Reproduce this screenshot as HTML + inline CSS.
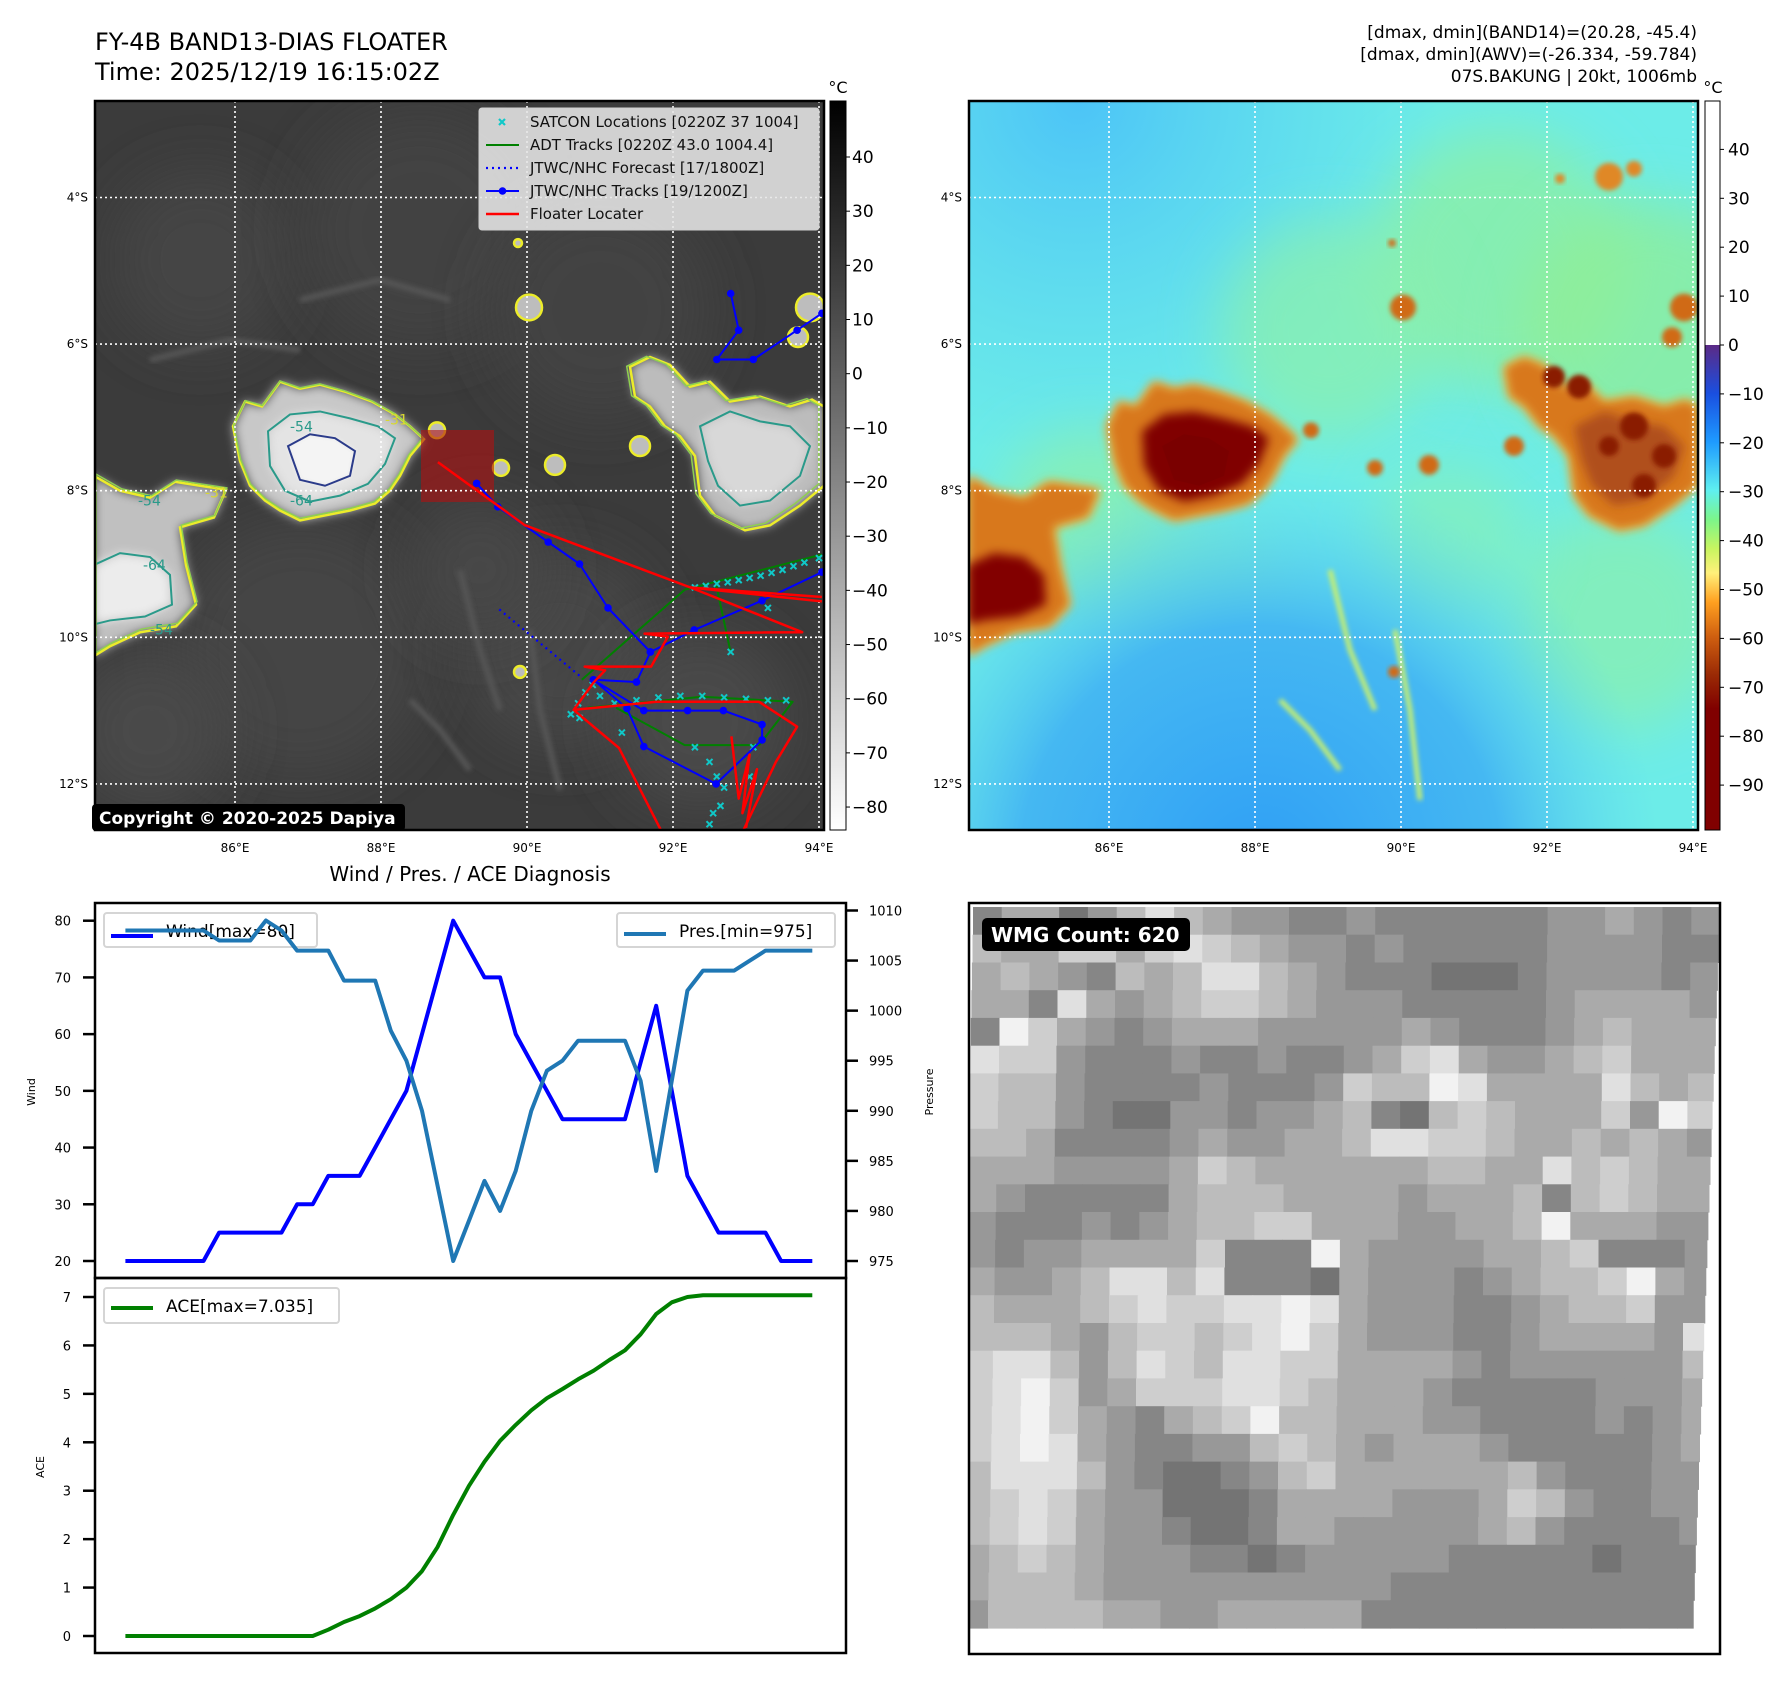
<!DOCTYPE html>
<html><head><meta charset="utf-8">
<style>
html,body{margin:0;padding:0;background:#fff;}
#root{position:relative;width:1788px;height:1690px;overflow:hidden;font-family:"Liberation Sans","DejaVu Sans",sans-serif;}
svg text{font-family:"DejaVu Sans","Liberation Sans",sans-serif;}
</style></head>
<body>
<div id="root">
<svg id="fig" width="1788" height="1690" viewBox="0 0 1788 1690" xmlns="http://www.w3.org/2000/svg">
<defs>
  <filter id="blur4" x="-20%" y="-20%" width="140%" height="140%"><feGaussianBlur stdDeviation="5"/></filter>
  <filter id="blur2" x="-20%" y="-20%" width="140%" height="140%"><feGaussianBlur stdDeviation="2.5"/></filter>
  <filter id="blur10" x="-100%" y="-100%" width="300%" height="300%"><feGaussianBlur stdDeviation="28"/></filter>
  <linearGradient id="cbGray" x1="0" y1="0" x2="0" y2="1">
    <stop offset="0" stop-color="#000"/><stop offset="1" stop-color="#fff"/>
  </linearGradient>
  <linearGradient id="cbJet" x1="0" y1="0" x2="0" y2="1">
    <stop offset="0" stop-color="#5b2a86"/>
    <stop offset="0.1" stop-color="#1a4fe0"/>
    <stop offset="0.2" stop-color="#1e9bff"/>
    <stop offset="0.3" stop-color="#5ff0f0"/>
    <stop offset="0.36" stop-color="#7cf58a"/>
    <stop offset="0.42" stop-color="#c8f560"/>
    <stop offset="0.47" stop-color="#fff07a"/>
    <stop offset="0.53" stop-color="#ffa020"/>
    <stop offset="0.6" stop-color="#d06010"/>
    <stop offset="0.68" stop-color="#9a2a05"/>
    <stop offset="0.75" stop-color="#800000"/>
    <stop offset="1" stop-color="#800000"/>
  </linearGradient>
  <radialGradient id="bgBlue" cx="0.4" cy="1.05" r="0.55">
    <stop offset="0" stop-color="#2f9ff5"/><stop offset="0.6" stop-color="#45b8f2"/><stop offset="1" stop-color="#5fd8ef" stop-opacity="0"/>
  </radialGradient>
  <radialGradient id="bgBlueTop" cx="0.15" cy="0" r="0.5">
    <stop offset="0" stop-color="#4cc4f7"/><stop offset="1" stop-color="#55d0f3" stop-opacity="0"/>
  </radialGradient>
  <clipPath id="clip1"><rect x="95" y="101" width="729" height="729"/></clipPath>
  <clipPath id="clip2"><rect x="969" y="101" width="729" height="729"/></clipPath>
  <clipPath id="clipW"><rect x="969" y="903" width="751" height="751"/></clipPath>
</defs>
<g id="layer"></g>
</svg>
</div>
<script>
// ---------------- chart data ----------------
const windVals = [20,20,20,20,20,20,25,25,25,25,25,30,30,35,35,35,40,45,50,60,70,80,75,70,70,60,55,50,45,45,45,45,45,55,65,50,35,30,25,25,25,25,20,20,20];
const presVals = [1008,1008,1008,1008,1008,1008,1007,1007,1007,1009,1008,1006,1006,1006,1003,1003,1003,998,995,990,982.5,975,979,983,980,984,990,994,995,997,997,997,997,993,984,993,1002,1004,1004,1004,1005,1006,1006,1006,1006];
const aceVals = [0,0,0,0,0,0,0,0,0,0,0,0,0,0.13,0.29,0.41,0.57,0.76,1.0,1.34,1.84,2.5,3.1,3.6,4.03,4.36,4.66,4.91,5.1,5.3,5.48,5.7,5.9,6.23,6.65,6.89,7.0,7.035,7.035,7.035,7.035,7.035,7.035,7.035,7.035];
const windTicks = [20,30,40,50,60,70,80];
const presTicks = [975,980,985,990,995,1000,1005,1010];
const aceTicks = [0,1,2,3,4,5,6,7];
const latTicks = [4,6,8,10,12];
const lonTicks = [86,88,90,92,94];
const cb1Ticks = [40,30,20,10,0,-10,-20,-30,-40,-50,-60,-70,-80];
const cb2Ticks = [40,30,20,10,0,-10,-20,-30,-40,-50,-60,-70,-80,-90];
// track data (lon E, lat S)
const jtwcMain = [[89.31,7.90],[89.60,8.22],[90.29,8.70],[90.72,9.00],[91.11,9.60],[91.69,10.20],[92.29,9.90],[93.22,9.50],[94.04,9.11]];
const jtwcLoop = [[91.69,10.20],[91.50,10.61],[90.91,10.58],[91.37,10.97],[91.60,11.49],[92.59,12.0],[93.22,11.40],[93.22,11.19],[92.69,11.0],[92.2,11.0],[91.6,11.0],[90.91,10.58]];
const jtwcUpper = [[92.79,5.31],[92.90,5.81],[92.60,6.21],[93.10,6.21],[93.70,5.81],[94.04,5.58]];
const jtwcFcst = [[89.62,9.62],[90.75,10.55]];
const floaterA = [[88.78,7.61],[89.97,8.47],[92.24,9.32],[94.04,9.51]];
const floaterB = [[94.04,9.45],[92.24,9.32],[93.77,9.93],[91.61,9.95],[91.93,9.99],[91.70,10.4],[90.79,10.40],[91.07,10.45],[90.91,10.62],[90.64,10.99],[91.77,10.88],[93.18,10.88],[93.70,11.22],[93.41,11.70],[92.95,12.66]];
const floaterC = [[90.64,10.99],[91.26,11.51],[91.85,12.66]];
const floaterD = [[92.80,11.35],[92.90,12.2],[93.05,11.6],[92.95,12.4],[93.15,11.8],[93.0,12.6]];
const adtA = [[90.75,10.58],[92.16,9.35],[94.04,8.87]];
const adtB = [[92.59,9.28],[92.79,10.21]];
const adtC = [[90.83,10.96],[92.40,10.81],[93.64,10.88],[93.18,11.47],[92.16,11.47],[91.22,10.96]];
const satconPts = [[92.3,9.32],[92.6,9.27],[92.9,9.22],[93.2,9.16],[93.5,9.08],[93.8,8.98],[94.0,8.92],[92.45,9.3],[92.75,9.25],[93.05,9.19],[93.35,9.12],[93.65,9.03],[92.79,10.2],[93.3,9.6],[90.7,10.9],[90.8,10.75],[90.9,10.65],[91.0,10.8],[90.6,11.05],[90.72,11.1],[91.2,10.9],[91.5,10.86],[91.8,10.82],[92.1,10.8],[92.4,10.8],[92.7,10.82],[93.0,10.84],[93.3,10.86],[93.55,10.86],[91.3,11.3],[92.3,11.5],[92.5,11.7],[92.6,11.9],[92.7,12.05],[92.55,12.4],[92.5,12.55],[92.65,12.3],[93.1,11.5],[93.05,11.9]];

// ---------------- helpers ----------------
const NS = 'http://www.w3.org/2000/svg';
const layer = document.getElementById('layer');
function mk(tag, attrs, parent){ const e=document.createElementNS(NS,tag); for(const k in attrs) e.setAttribute(k,attrs[k]); (parent||layer).appendChild(e); return e; }
function txt(str, attrs, parent){ const e=mk('text',attrs,parent); e.textContent=str; return e; }
function mapX(lon, off){ return 235 + (lon-86)*73 + (off||0); }
function mapY(latS){ return 197.5 + (latS-4)*73.3; }
function ptsStr(arr, off){ return arr.map(p=>mapX(p[0],off).toFixed(1)+','+mapY(p[1]).toFixed(1)).join(' '); }
const CLOUD_TR = 'matrix(1,0,0,0.9905,0,10.3)';

// ---------------- titles ----------------
let t;
t = txt('FY-4B BAND13-DIAS FLOATER',{x:95,y:50,'font-size':24,fill:'#000'});
 
t = txt('Time: 2025/12/19 16:15:02Z',{x:95,y:80,'font-size':24,fill:'#000'});
 
const infoLines = ['[dmax, dmin](BAND14)=(20.28, -45.4)','[dmax, dmin](AWV)=(-26.334, -59.784)','07S.BAKUNG | 20kt, 1006mb'];
infoLines.forEach((s,i)=>{ const e=txt(s,{x:1697,y:38+i*22,'font-size':17,'text-anchor':'end',fill:'#000'});
  
   });

// ---------------- cloud shapes (map-local, map1 coords) ----------------
const blobMain = 'M233,420 L245,395 L262,400 L280,375 L300,382 L320,378 L345,385 L372,395 L395,408 L410,420 L424,433 L410,450 L400,470 L390,485 L375,498 L350,505 L325,510 L300,515 L280,505 L265,495 L250,480 L240,455 Z';
const blobMainCore = 'M268,425 L290,408 L320,405 L350,412 L378,420 L395,432 L385,458 L368,478 L340,490 L310,496 L285,485 L270,460 Z';
const blobMainDeep = 'M288,440 L310,428 L335,432 L355,445 L350,470 L325,480 L300,474 Z';
const blobLeft = 'M94,470 L120,485 L150,492 L175,476 L200,480 L226,484 L214,512 L180,522 L186,560 L196,600 L176,622 L140,628 L110,642 L94,652 Z';
const blobLeftCore = 'M94,560 L120,548 L150,552 L170,570 L172,600 L145,612 L110,616 L94,620 Z';
const blobRight = 'M630,360 L650,350 L670,358 L690,380 L710,375 L730,395 L760,390 L790,400 L812,393 L824,400 L824,480 L800,500 L770,520 L745,525 L715,510 L700,490 L695,450 L680,430 L665,420 L650,400 L635,390 Z';
const blobRightCore = 'M700,420 L730,405 L760,415 L790,420 L810,440 L800,470 L770,495 L740,500 L718,480 L708,455 Z';
const smallBlobs = [[529,300,13],[501,462,8],[555,459,10],[437,424,8],[810,300,14],[798,330,10],[640,440,10],[518,235,4],[520,668,6]];

function drawClouds(g, off, mode){
  const gg = mk('g',{transform:'translate('+off+',0) '+CLOUD_TR},g);
  if(mode==='gray'){
    [[blobMain,'#c8c8c8'],[blobLeft,'#c0c0c0'],[blobRight,'#bcbcbc']].forEach(a=>mk('path',{d:a[0],fill:a[1],filter:'url(#blur4)'},gg));
    [[blobMainCore,'#e4e4e4'],[blobLeftCore,'#ececec'],[blobRightCore,'#d8d8d8']].forEach(a=>mk('path',{d:a[0],fill:a[1],filter:'url(#blur4)'},gg));
    mk('path',{d:blobMainDeep,fill:'#f4f4f4',filter:'url(#blur2)'},gg);
    smallBlobs.forEach(b=>mk('circle',{cx:b[0],cy:b[1],r:b[2],fill:'#bdbdbd'},gg));
    [blobMain,blobLeft,blobRight].forEach(d=>mk('path',{d:d,fill:'none',stroke:'#ecec2a','stroke-width':2.5},gg));
    smallBlobs.forEach(b=>mk('circle',{cx:b[0],cy:b[1],r:b[2],fill:'none',stroke:'#ecec2a','stroke-width':2.5},gg));
    [blobMainCore,blobLeftCore,blobRightCore].forEach(d=>mk('path',{d:d,fill:'none',stroke:'#2a9a8a','stroke-width':2},gg));
    mk('path',{d:blobMainDeep,fill:'none',stroke:'#2b3b8a','stroke-width':2},gg);
    [blobMain,blobLeft,blobRight].forEach(d=>mk('path',{d:d,fill:'none',stroke:'#8fd14f','stroke-width':1.5,transform:'translate(3,3) scale(0.99)'},gg));
  } else {
    [blobMain,blobLeft,blobRight].forEach(d=>mk('path',{d:d,fill:'#f0e060',filter:'url(#blur4)'},gg));
    [blobMain,blobLeft,blobRight].forEach(d=>mk('path',{d:d,fill:'#d8781a',filter:'url(#blur4)'},gg));
    [[blobMainCore,'#800000'],[blobLeftCore,'#820202'],[blobRightCore,'#b0501a']].forEach(a=>mk('path',{d:a[0],fill:a[1],filter:'url(#blur4)'},gg));
    mk('path',{d:blobMainDeep,fill:'#7a0000'},gg);
    [[760,420,14],[790,450,12],[735,440,10],[705,380,12],[680,370,11],[770,480,12]].forEach(b=>mk('circle',{cx:b[0],cy:b[1],r:b[2],fill:'#8a1a05',filter:'url(#blur2)'},gg));
    smallBlobs.forEach(b=>mk('circle',{cx:b[0],cy:b[1],r:b[2],fill:'#d06a15',filter:'url(#blur2)'},gg));
    [[735,168,14],[760,160,8],[686,170,5]].forEach(b=>mk('circle',{cx:b[0],cy:b[1],r:b[2],fill:'#e08828',filter:'url(#blur2)'},gg));
  }
}

// ---------------- MAP 1 ----------------
const m1 = mk('g',{'clip-path':'url(#clip1)'});


mk('rect',{x:95,y:101,width:729,height:729,fill:'#3b3b3b'},m1);
[[200,260,90,'#444'],[420,230,120,'#434343'],[600,310,110,'#424242'],[300,650,130,'#444'],[560,650,100,'#474747'],[700,720,90,'#494949'],[150,730,80,'#484848'],[480,570,70,'#474747']].forEach(c=>mk('circle',{cx:c[0],cy:c[1],r:c[2],fill:c[3],filter:'url(#blur10)'},m1));
[[[460,570],[480,650],[500,710]],[[530,630],[540,710],[560,790]],[[410,700],[440,730],[470,770]],[[300,300],[380,280],[450,300]],[[150,360],[230,340],[300,350]]].forEach(l=>mk('polyline',{points:l.map(p=>p.join(',')).join(' '),fill:'none',stroke:'#555','stroke-width':6,filter:'url(#blur2)'},m1));
drawClouds(m1,0,'gray');
const fsq = mk('rect',{x:421,y:430,width:73,height:72,fill:'#b01010','fill-opacity':0.6},m1);


latTicks.forEach(v=>mk('line',{x1:95,x2:824,y1:mapY(v),y2:mapY(v),stroke:'#fff','stroke-width':1.6,'stroke-dasharray':'2,3'},m1));
lonTicks.forEach(v=>mk('line',{y1:101,y2:830,x1:mapX(v),x2:mapX(v),stroke:'#fff','stroke-width':1.6,'stroke-dasharray':'2,3'},m1));
function poly(arr, color, w, parent, off, dash, name){
  const e=mk('polyline',{points:ptsStr(arr,off),fill:'none',stroke:color,'stroke-width':w,'stroke-linejoin':'round'},parent);
  if(dash) e.setAttribute('stroke-dasharray',dash);
  
  
  return e;
}
poly(adtA,'#008000',2,m1,0,null,'adt-track');
poly(adtB,'#008000',2,m1,0,null,'adt-track');
poly(adtC,'#008000',2,m1,0,null,'adt-track');
satconPts.forEach(p=>{ const x=mapX(p[0]), y=mapY(p[1]);
  const g=mk('g',{},m1);
  
  
  mk('path',{d:`M${x-3},${y-3}L${x+3},${y+3}M${x+3},${y-3}L${x-3},${y+3}`,stroke:'#10c8c8','stroke-width':2},g); });
poly(jtwcFcst,'#0000ff',2.2,m1,0,'2,4','jtwc-forecast');
[jtwcMain,jtwcLoop,jtwcUpper].forEach(arr=>{ poly(arr,'#0000ff',2,m1,0,null,'jtwc-track');
  arr.forEach(p=>{ const c=mk('circle',{cx:mapX(p[0]),cy:mapY(p[1]),r:3.8,fill:'#0000ff'},m1);
    
     }); });
[floaterA,floaterB,floaterC,floaterD].forEach(a=>poly(a,'#ff0000',2.5,m1,0,null,'floater-locater-line'));
const lblG = mk('g',{transform:CLOUD_TR},m1);
[['-54',290,425],['-64',290,500],['-31',385,418],['-54',138,500],['-64',143,565],['-31',205,492],['-54',150,630]].forEach(l=>txt(l[0],{x:l[1],y:l[2],'font-size':14,fill:l[0]==='-31'?'#d8d830':'#2a9a8a'},lblG));
const cp = mk('g',{});  
mk('rect',{x:92,y:804,width:313,height:27,rx:4,fill:'#000'},cp);
txt('Copyright © 2020-2025 Dapiya',{x:99,y:824,'font-size':17,'font-weight':'bold',fill:'#fff'},cp);
mk('rect',{x:95,y:101,width:729,height:729,fill:'none',stroke:'#000','stroke-width':2.5});
// legend
const lg = mk('g',{});  
mk('rect',{x:479,y:108,width:340,height:122,rx:3,fill:'#e6e6e6','fill-opacity':0.88,stroke:'#cfcfcf'},lg);
const legItems = ['SATCON Locations [0220Z 37 1004]','ADT Tracks [0220Z 43.0 1004.4]','JTWC/NHC Forecast [17/1800Z]','JTWC/NHC Tracks [19/1200Z]','Floater Locater'];
legItems.forEach((s,i)=>{ const y=122+i*23;
  const g=mk('g',{},lg);
  
  
  if(i===0){ mk('path',{d:`M499,${y-3}L505,${y+3}M505,${y-3}L499,${y+3}`,stroke:'#10c8c8','stroke-width':2.2},g); }
  if(i===1) mk('line',{x1:486,x2:519,y1:y,y2:y,stroke:'#008000','stroke-width':2},g);
  if(i===2) mk('line',{x1:486,x2:519,y1:y,y2:y,stroke:'#0000ff','stroke-width':2.2,'stroke-dasharray':'2,4'},g);
  if(i===3){ mk('line',{x1:486,x2:519,y1:y,y2:y,stroke:'#0000ff','stroke-width':2},g); mk('circle',{cx:502.5,cy:y,r:3.8,fill:'#0000ff'},g); }
  if(i===4) mk('line',{x1:486,x2:519,y1:y,y2:y,stroke:'#ff0000','stroke-width':2.5},g);
  txt(s,{x:530,y:y+5,'font-size':15,fill:'#111'},g); });
function mapLabels(off, leftX){
  latTicks.forEach(v=>{ const e=txt(v+'°S',{x:leftX,y:mapY(v)+4,'font-size':12,'text-anchor':'end',fill:'#000'});
      });
  lonTicks.forEach(v=>{ const e=txt(v+'°E',{x:mapX(v,off),y:852,'font-size':12,'text-anchor':'middle',fill:'#000'});
      });
}
mapLabels(0,88);
function cb1Y(v){ return 157 + (40-v)*5.417; }
const cb1 = mk('g',{});  
mk('rect',{x:830,y:101,width:16,height:729,fill:'url(#cbGray)',stroke:'#000','stroke-width':1},cb1);
cb1Ticks.forEach(v=>{ const y=cb1Y(v); mk('line',{x1:846,x2:850,y1:y,y2:y,stroke:'#000'},cb1);
  const s=(v<0?'\u2212'+(-v):''+v); txt(s,{x:852,y:y+6,'font-size':17,fill:'#000'},cb1); });
txt('°C',{x:838,y:93,'font-size':16,'text-anchor':'middle',fill:'#000'},cb1);

// ---------------- MAP 2 ----------------
const OFF2 = 874;
const m2 = mk('g',{'clip-path':'url(#clip2)'});


mk('rect',{x:969,y:101,width:729,height:729,fill:'#6cece8'},m2);
mk('rect',{x:969,y:101,width:729,height:729,fill:'url(#bgBlueTop)'},m2);
[[1500,260,130,'#90ef9c'],[1650,330,130,'#92ee92'],[1330,330,110,'#8cefaa'],[1090,520,90,'#8ff0a6'],[1620,620,110,'#8aefac'],[1450,540,80,'#84f0b8'],[1200,600,80,'#80efc0']].forEach(c=>mk('circle',{cx:c[0],cy:c[1],r:c[2],fill:c[3],'fill-opacity':0.7,filter:'url(#blur10)'},m2));
mk('rect',{x:969,y:101,width:729,height:729,fill:'url(#bgBlue)'},m2);
[[[1330,570],[1350,650],[1375,710]],[[1395,630],[1410,710],[1420,800]],[[1280,700],[1310,730],[1340,770]]].forEach(l=>mk('polyline',{points:l.map(p=>p.join(',')).join(' '),fill:'none',stroke:'#c8f070','stroke-width':5,filter:'url(#blur2)'},m2));
drawClouds(m2,OFF2,'color');
latTicks.forEach(v=>mk('line',{x1:969,x2:1698,y1:mapY(v),y2:mapY(v),stroke:'#fff','stroke-width':1.6,'stroke-dasharray':'2,3'},m2));
lonTicks.forEach(v=>mk('line',{y1:101,y2:830,x1:mapX(v,OFF2),x2:mapX(v,OFF2),stroke:'#fff','stroke-width':1.6,'stroke-dasharray':'2,3'},m2));
mk('rect',{x:969,y:101,width:729,height:729,fill:'none',stroke:'#000','stroke-width':2.5});
mapLabels(OFF2,962);
function cb2Y(v){ return 345 - v*4.89; }
const cb2 = mk('g',{});  
mk('rect',{x:1705,y:101,width:15,height:cb2Y(0)-101,fill:'#fff'},cb2);
mk('rect',{x:1705,y:cb2Y(0),width:15,height:830-cb2Y(0),fill:'url(#cbJet)'},cb2);
mk('rect',{x:1705,y:101,width:15,height:729,fill:'none',stroke:'#000','stroke-width':1},cb2);
cb2Ticks.forEach(v=>{ const y=cb2Y(v); mk('line',{x1:1720,x2:1724,y1:y,y2:y,stroke:'#000'},cb2);
  const s=(v<0?'\u2212'+(-v):''+v); txt(s,{x:1728,y:y+6,'font-size':17,fill:'#000'},cb2); });
txt('°C',{x:1713,y:93,'font-size':16,'text-anchor':'middle',fill:'#000'},cb2);

// ---------------- Wind / Pres / ACE chart ----------------
const CX0=95, CX1=846, TOP0=903, MID=1278, BOT=1653;
function xIdx(i){ return 125.4 + i*(812.3-125.4)/(windVals.length-1); }
function yWind(v){ return 920.7 + (80-v)*(1261-920.7)/60; }
function yPres(v){ return 910.5 + (1010-v)*(1261-910.5)/35; }
function yAce(v){ return 1636 + (0-v)*(1636-1297)/7; }
t = txt('Wind / Pres. / ACE Diagnosis',{x:470,y:881,'font-size':20,'text-anchor':'middle',fill:'#000'});
 
const topAx = mk('g',{});  
mk('rect',{x:CX0,y:TOP0,width:CX1-CX0,height:MID-TOP0,fill:'#fff'},topAx);
windTicks.forEach(v=>{ const y=yWind(v); mk('line',{x1:CX0-12,x2:CX0,y1:y,y2:y,stroke:'#000','stroke-width':2.5},topAx);
  const e=txt(''+v,{x:CX0-24,y:y+5,'font-size':13,'text-anchor':'end',fill:'#000'},topAx);
    });
presTicks.forEach(v=>{ const y=yPres(v); mk('line',{x1:CX1,x2:CX1+12,y1:y,y2:y,stroke:'#000','stroke-width':2.5},topAx);
  const e=txt(''+v,{x:CX1+23,y:y+5,'font-size':13,fill:'#000'},topAx);
    });
t=txt('Wind',{x:0,y:0,'font-size':11,'text-anchor':'middle',fill:'#000',transform:'translate(35,1092) rotate(-90)'});
 
t=txt('Pressure',{x:0,y:0,'font-size':11,'text-anchor':'middle',fill:'#000',transform:'translate(933,1092) rotate(-90)'});
 
let lgw = mk('g',{});  
mk('rect',{x:104,y:913,width:213,height:34,rx:3,fill:'#fff','fill-opacity':0.8,stroke:'#d5d5d5','stroke-width':2},lgw);
mk('line',{x1:111,x2:153,y1:936,y2:936,stroke:'#0000ff','stroke-width':4},lgw);
txt('Wind[max=80]',{x:166,y:937,'font-size':17,fill:'#000'},lgw);
const windLine = mk('polyline',{points:windVals.map((v,i)=>xIdx(i).toFixed(1)+','+yWind(v).toFixed(1)).join(' '),fill:'none',stroke:'#0000ff','stroke-width':4,'stroke-linejoin':'round'});
 
const presLine = mk('polyline',{points:presVals.map((v,i)=>xIdx(i).toFixed(1)+','+yPres(v).toFixed(1)).join(' '),fill:'none',stroke:'#1f77b4','stroke-width':4,'stroke-linejoin':'round'});
 
let lgp = mk('g',{});  
mk('rect',{x:617,y:913,width:218,height:34,rx:3,fill:'#fff','fill-opacity':0.8,stroke:'#d5d5d5','stroke-width':2},lgp);
mk('line',{x1:624,x2:666,y1:934,y2:934,stroke:'#1f77b4','stroke-width':4},lgp);
txt('Pres.[min=975]',{x:679,y:937,'font-size':17,fill:'#000'},lgp);
const botAx = mk('g',{});  
aceTicks.forEach(v=>{ const y=yAce(v); mk('line',{x1:CX0-12,x2:CX0,y1:y,y2:y,stroke:'#000','stroke-width':2.5},botAx);
  const e=txt(''+v,{x:CX0-24,y:y+5,'font-size':13,'text-anchor':'end',fill:'#000'},botAx);
    });
t=txt('ACE',{x:0,y:0,'font-size':11,'text-anchor':'middle',fill:'#000',transform:'translate(44,1467) rotate(-90)'});
 
const aceLine = mk('polyline',{points:aceVals.map((v,i)=>xIdx(i).toFixed(1)+','+yAce(v).toFixed(1)).join(' '),fill:'none',stroke:'#008000','stroke-width':4,'stroke-linejoin':'round'});
 
let lga = mk('g',{});  
mk('rect',{x:104,y:1288,width:235,height:35,rx:3,fill:'#fff','fill-opacity':0.8,stroke:'#d5d5d5','stroke-width':2},lga);
mk('line',{x1:111,x2:153,y1:1308,y2:1308,stroke:'#008000','stroke-width':4},lga);
txt('ACE[max=7.035]',{x:166,y:1312,'font-size':17,fill:'#000'},lga);
mk('rect',{x:CX0,y:TOP0,width:CX1-CX0,height:MID-TOP0,fill:'none',stroke:'#000','stroke-width':2.5});
mk('rect',{x:CX0,y:MID,width:CX1-CX0,height:BOT-MID,fill:'none',stroke:'#000','stroke-width':2.5});

// ---------------- WMG panel ----------------
const wmgRows = [
[3,5,5,2,4,6,8,6,5,4,4,3,3,4,3,3,3,3,3,3,4,4,5,4,3,4],
[6,5,5,7,7,5,7,8,7,6,5,4,4,3,4,3,3,3,3,3,4,4,4,4,3,3],
[5,6,5,4,3,6,5,6,8,8,6,5,4,3,3,3,2,2,2,3,4,4,4,4,3,4],
[5,5,3,8,5,4,5,6,7,7,6,5,4,4,4,3,3,3,3,3,4,5,5,5,5,4],
[3,9,7,5,4,3,4,5,5,5,4,4,4,4,4,5,4,3,3,3,4,5,6,5,5,5],
[8,7,7,4,3,3,3,4,3,3,4,3,3,4,5,7,8,5,4,4,5,6,7,5,5,5],
[7,6,6,4,3,3,3,3,4,3,3,3,4,7,6,6,9,8,5,5,5,5,8,6,5,6],
[7,6,6,4,3,2,2,4,4,3,4,4,5,6,3,2,6,7,6,5,5,5,7,4,9,7],
[6,6,5,3,3,3,3,4,5,4,4,5,5,6,8,8,7,7,6,5,5,6,5,6,5,4],
[5,5,5,4,4,4,4,5,7,6,5,5,5,5,5,5,6,6,5,5,8,6,7,6,5,5],
[5,4,3,3,3,3,3,5,6,6,6,5,5,5,5,4,5,5,5,6,3,6,7,6,5,5],
[4,3,3,3,4,3,4,5,6,6,7,7,5,5,5,4,4,5,5,6,9,5,5,5,4,4],
[4,3,4,4,5,5,5,5,7,3,3,3,9,5,4,4,4,4,5,5,6,7,3,3,3,4],
[5,4,4,5,6,8,8,6,8,3,3,3,2,5,4,4,4,3,4,5,6,6,7,9,5,4],
[6,5,5,5,6,7,8,7,7,8,8,9,8,5,4,4,4,3,3,4,5,6,6,7,4,4],
[6,6,6,5,4,6,7,7,6,7,8,9,7,5,4,4,4,3,3,4,5,5,5,5,4,8],
[7,8,8,6,4,6,8,7,6,8,8,7,7,5,5,5,5,4,3,4,4,4,4,4,4,6],
[7,8,9,7,4,5,7,7,7,8,8,7,6,5,5,5,4,3,3,3,3,3,4,4,4,5],
[7,8,9,7,5,4,3,5,6,7,9,6,6,5,5,5,4,4,3,3,3,3,4,3,4,5],
[7,8,9,8,5,4,3,3,4,4,6,7,6,5,4,5,5,5,4,3,3,3,3,3,4,5],
[6,8,8,8,6,4,3,2,2,3,4,6,7,5,5,5,5,5,5,6,4,3,3,3,4,4],
[6,7,8,7,5,4,4,2,2,2,3,5,5,5,5,4,4,4,5,7,6,4,3,3,4,4],
[6,7,8,7,5,4,4,3,2,2,3,5,5,4,4,4,4,4,5,6,4,3,3,3,3,4],
[5,6,7,6,5,4,4,4,3,3,2,3,4,4,4,4,4,3,3,3,3,3,2,3,3,3],
[5,6,6,6,5,4,4,4,4,4,4,4,4,4,4,3,3,3,3,3,3,3,3,3,3,3],
[4,6,6,6,6,5,5,4,4,5,5,5,5,5,3,3,3,3,3,3,3,3,3,3,3,3]];
const wmg = mk('g',{'clip-path':'url(#clipW)'});


const nR = wmgRows.length, nC = wmgRows[0].length;
const gx0=973, gy0=907, gx1=1720, gy1=1628;
const cw=(gx1-gx0)/nC, ch=(gy1-gy0)/nR;
wmgRows.forEach((row,r)=>row.forEach((v,c)=>{
  const g = Math.round(80 + v*18);
  const shift = -r*0.55;
  const w = c===nC-1 ? cw - r*0.5 : cw+0.6;
  mk('rect',{x:(gx0+c*cw+shift).toFixed(1),y:(gy0+r*ch).toFixed(1),width:w.toFixed(1),height:(ch+0.6).toFixed(1),fill:`rgb(${g},${g},${g})`},wmg);
}));
mk('rect',{x:969,y:903,width:751,height:751,fill:'none',stroke:'#000','stroke-width':2.5});
const wb = mk('g',{});  
mk('rect',{x:982,y:918,width:208,height:33,rx:5,fill:'#000'},wb);
txt('WMG Count: 620',{x:991,y:942,'font-size':20,'font-weight':'bold',fill:'#fff'},wb);
</script>
</body></html>
